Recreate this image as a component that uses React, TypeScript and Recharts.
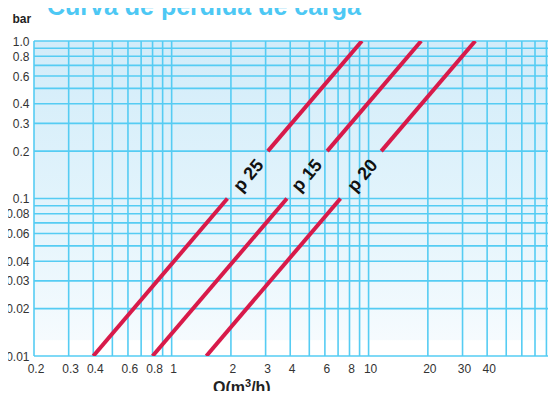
import React from "react";
import { ComposedChart, Line, Scatter, XAxis, YAxis, CartesianGrid } from "recharts";

// Flow (m3/h) grid values and labelled ticks
const xGridValues = [0.2, 0.3, 0.4, 0.5, 0.6, 0.7, 0.8, 0.9, 1, 2, 3, 4, 5, 6, 7, 8, 9, 10, 20, 30, 40, 50, 60, 70, 80, 90];
const xTickLabels = ["0.2", "0.3", "0.4", "0.6", "0.8", "1", "2", "3", "4", "6", "8", "10", "20", "30", "40"];

// Pressure drop (bar) grid values and labelled ticks
const yGridValues = [0.01, 0.02, 0.03, 0.04, 0.05, 0.06, 0.07, 0.08, 0.09, 0.1, 0.2, 0.3, 0.4, 0.5, 0.6, 0.7, 0.8, 0.9, 1];
const yTickLabels = ["0.01", "0.02", "0.03", "0.04", "0.06", "0.08", "0.1", "0.2", "0.3", "0.4", "0.6", "0.8", "1.0"];

// Curves (two visible segments each, broken where the name is written)
const p25Lower = [{ q: 0.4, bar: 0.01 }, { q: 1.92, bar: 0.1 }];
const p25Upper = [{ q: 3.08, bar: 0.2 }, { q: 9.25, bar: 1 }];
const p15Lower = [{ q: 0.8, bar: 0.01 }, { q: 3.85, bar: 0.1 }];
const p15Upper = [{ q: 6.16, bar: 0.2 }, { q: 18.5, bar: 1 }];
const p20Lower = [{ q: 1.5, bar: 0.01 }, { q: 7.2, bar: 0.1 }];
const p20Upper = [{ q: 11.6, bar: 0.2 }, { q: 34.8, bar: 1 }];

const curveLabels = [
  { name: "p 25", q: 2.45, bar: 0.14 },
  { name: "p 15", q: 4.85, bar: 0.14 },
  { name: "p 20", q: 9.3, bar: 0.14 },
];

const TITLE = "Curva de perdida de carga";
const Y_UNIT = "bar";

const FONT = "'Liberation Sans', Arial, sans-serif";
const RED = "#d81a4a";
const GRID = "#55ccf3";

const findLabel = (labels: string[], v: number) =>
  labels.find((l) => Math.abs(parseFloat(l) - v) < 1e-9);

const XTick = (props: any) => {
  const { x, y, payload } = props;
  const lbl = findLabel(xTickLabels, payload.value);
  if (!lbl) return <g />;
  return (
    <text x={x + 2} y={y + 17} textAnchor="middle" fontSize={12} fill="#333" fontFamily={FONT}>
      {lbl}
    </text>
  );
};

const YTick = (props: any) => {
  const { x, y, payload } = props;
  const lbl = findLabel(yTickLabels, payload.value);
  if (!lbl) return <g />;
  return (
    <text x={x - 4.5} y={y} dy="0.38em" textAnchor="end" fontSize={12} fill="#333" fontFamily={FONT}>
      {lbl}
    </text>
  );
};

const CurveName = (props: any) => {
  const { cx, cy, payload } = props;
  return (
    <text
      x={cx}
      y={cy}
      transform={`rotate(-49.6 ${cx} ${cy})`}
      textAnchor="middle"
      dominantBaseline="central"
      fontSize={18}
      fontWeight="bold"
      fill="#111"
      fontFamily={FONT}
    >
      {payload.name}
    </text>
  );
};

const segs = [p25Lower, p25Upper, p15Lower, p15Upper, p20Lower, p20Upper];

export default function App() {
  return (
    <div style={{ position: "relative", width: 556, height: 399, margin: -8, overflow: "hidden", background: "#fff" }}>
      <div
        style={{
          position: "absolute",
          left: 47,
          top: -8,
          fontFamily: FONT,
          fontWeight: "bold",
          fontSize: 25,
          color: "#4dc8f4",
          whiteSpace: "nowrap",
          lineHeight: "28px",
        }}
      >
        {TITLE}
      </div>
      <div
        style={{
          position: "absolute",
          left: 12.5,
          top: 12,
          fontFamily: FONT,
          fontWeight: "bold",
          fontSize: 12,
          color: "#222",
          lineHeight: "14px",
        }}
      >
        {Y_UNIT}
      </div>
      <div
        style={{
          position: "absolute",
          left: 213,
          top: 379,
          fontFamily: FONT,
          fontWeight: "bold",
          fontSize: 16,
          color: "#222",
          lineHeight: "18px",
          whiteSpace: "nowrap",
        }}
      >
        Q(m<span style={{ fontSize: 11, position: "relative", top: -6 }}>3</span>/h)
      </div>
      <div style={{ position: "absolute", left: 0, top: 0 }}>
        <ComposedChart width={560} height={399} margin={{ top: 41, right: 3.5, bottom: 13, left: 0 }}>
          <defs>
            <linearGradient id="bgGrad" x1="0" y1="0" x2="0" y2="1">
              <stop offset="0" stopColor="#d2ecf9" />
              <stop offset="0.55" stopColor="#e3f4fc" />
              <stop offset="0.95" stopColor="#f6fbfe" />
              <stop offset="0.951" stopColor="#ffffff" />
              <stop offset="1" stopColor="#ffffff" />
            </linearGradient>
          </defs>
          <CartesianGrid
            stroke={GRID}
            strokeWidth={1.6}
            fill="url(#bgGrad)"
            fillOpacity={1}
          />
          <XAxis
            dataKey="q"
            type="number"
            scale="log"
            domain={[0.2, 90]}
            allowDataOverflow
            ticks={xGridValues}
            interval={0}
            tick={<XTick />}
            tickLine={false}
            axisLine={false}
            tickSize={0}
            tickMargin={0}
            height={30}
          />
          <YAxis
            dataKey="bar"
            type="number"
            scale="log"
            domain={[0.01, 1]}
            allowDataOverflow
            ticks={yGridValues}
            interval={0}
            tick={<YTick />}
            tickLine={false}
            axisLine={false}
            tickSize={0}
            tickMargin={0}
            width={34}
          />
          {segs.map((d, i) => (
            <Line
              key={i}
              data={d}
              dataKey="bar"
              type="linear"
              stroke={RED}
              strokeWidth={4}
              dot={false}
              activeDot={false}
              isAnimationActive={false}
            />
          ))}
          <Scatter data={curveLabels} dataKey="bar" shape={<CurveName />} isAnimationActive={false} />
        </ComposedChart>
      </div>
    </div>
  );
}
